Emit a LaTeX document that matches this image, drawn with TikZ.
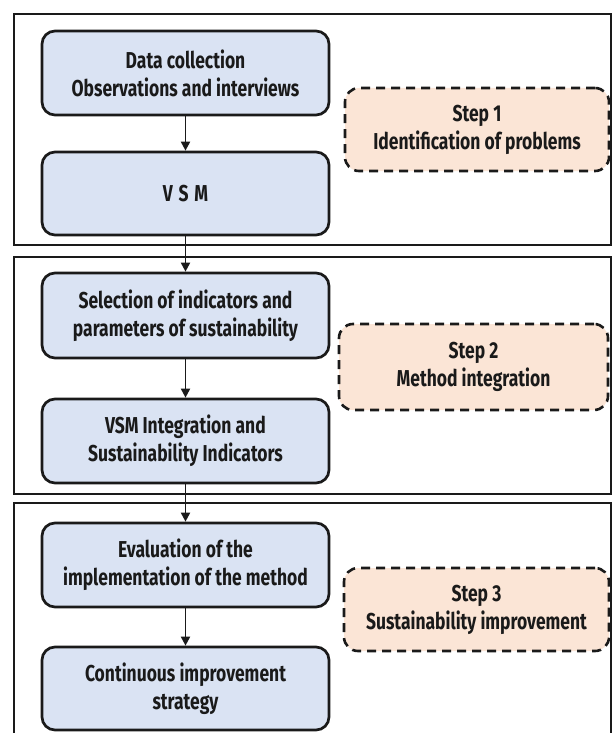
\documentclass[tikz,border=0pt]{standalone}
\usepackage{fontspec}
\setmainfont{Fira Sans}[FakeStretch=0.76]
\usetikzlibrary{arrows.meta}
\definecolor{boxblue}{HTML}{DAE3F3}
\definecolor{boxpeach}{HTML}{FBE5D6}
\definecolor{ink}{HTML}{1A1A1A}
\newcommand\fsz{\fontsize{23}{28}\selectfont\bfseries}
\tikzset{
  flow/.style={draw=ink, line width=2.7pt, fill=boxblue, rounded corners=13pt,
    minimum width=287pt, align=center, font=\fsz, text=ink, inner sep=2pt},
  stepbox/.style={draw=ink, line width=2.6pt, dash pattern=on 9pt off 6pt,
    fill=boxpeach, rounded corners=14pt, align=center, font=\fsz, text=ink, inner sep=2pt},
  frame/.style={draw=ink, line width=2.8pt},
  arr/.style={draw=ink, line width=1.9pt, -{Triangle[length=9pt,width=9pt]}}
}
\begin{document}
\begin{tikzpicture}[x=1pt,y=-1pt]
\useasboundingbox (0,0) rectangle (611,733);
\fill[white] (0,0) rectangle (611,733);
% frames
\draw[frame] (14,14) rectangle (611,245);
\draw[frame] (14,257) rectangle (611,494);
\draw[frame] (14,503) rectangle (611,745);
% flow boxes
\node[flow, minimum height=84pt] (b1) at (185.5,73) {Data collection\\Observations and interviews};
\node[flow, minimum height=83pt] (b2) at (185.5,193.5) {V\hspace{0.25em}S\hspace{0.25em}M};
\node[flow, minimum height=85pt] (b3) at (185.5,315.5) {Selection of indicators and\\parameters of sustainability};
\node[flow, minimum height=84pt] (b4) at (185.5,441) {VSM Integration and\\Sustainability Indicators};
\node[flow, minimum height=84pt] (b5) at (185.5,565) {Evaluation of the\\implementation of the method};
\node[flow, minimum height=83pt] (b6) at (185.5,688.5) {Continuous improvement\\strategy};
% step boxes
\node[stepbox, minimum width=264pt, minimum height=83pt] (s1) at (477,129.5) {Step 1\\Identification of problems};
\node[stepbox, minimum width=269pt, minimum height=86pt] (s2) at (473.5,367) {Step 2\\Method integration};
\node[stepbox, minimum width=265pt, minimum height=83pt] (s3) at (476.5,609.5) {Step 3\\Sustainability improvement};
% arrows
\draw[arr] (b1) -- (b2);
\draw[arr] (b2) -- (b3);
\draw[arr] (b3) -- (b4);
\draw[arr] (b4) -- (b5);
\draw[arr] (b5) -- (b6);
\end{tikzpicture}
\end{document}
